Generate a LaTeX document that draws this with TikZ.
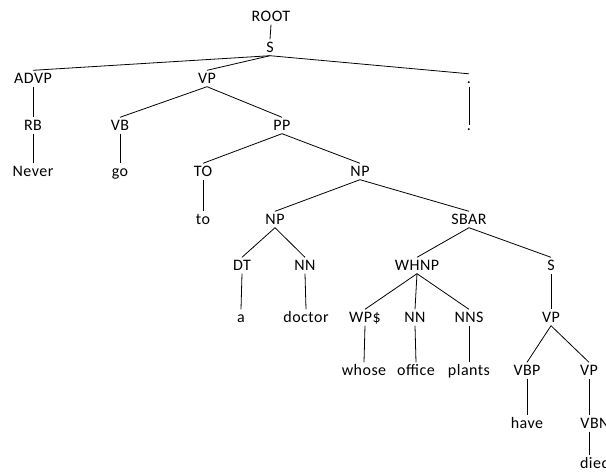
\documentclass[tikz,border=0pt]{standalone}
\usepackage{fontspec}
\setmainfont{Carlito}[LetterSpace=3]
\begin{document}
\begin{tikzpicture}[x=1pt,y=-1pt,
  lbl/.style={font=\fontsize{16}{19}\selectfont, inner sep=0pt,
              text height=12.5pt, text depth=3.5pt, anchor=base},
  branch/.style={line width=0.8pt, black}]
\path[use as bounding box] (0,0) rectangle (606,472);
\clip (0,0) rectangle (606,472);

% tree labels, one row per depth (y = baseline)
\node[lbl] (root)   at (271,21)  {ROOT};
\node[lbl] (s)      at (270,52)  {S};
\node[lbl] (advp)   at (33,83)   {ADVP};
\node[lbl] (vp)     at (207,83)  {VP};
\node[lbl, text height=9pt] (pdot) at (469,83) {.};
\node[lbl] (rb)     at (33,130)  {RB};
\node[lbl] (vb)     at (120,130) {VB};
\node[lbl] (pp)     at (282,130) {PP};
\node[lbl, text height=5pt] (pdotw) at (469,130) {.};
\node[lbl] (never)  at (33,176)  {Never};
\node[lbl] (go)     at (120,176) {go};
\node[lbl] (tot)    at (203,176) {TO};
\node[lbl] (np)     at (360,176) {NP};
\node[lbl] (tow)    at (203,224) {to};
\node[lbl] (npa)    at (275,224) {NP};
\node[lbl] (sbar)   at (469,224) {SBAR};
\node[lbl] (dt)     at (242,270) {DT};
\node[lbl] (nn)     at (305,270) {NN};
\node[lbl] (whnp)   at (417,270) {WHNP};
\node[lbl] (sb)     at (551,270) {S};
\node[lbl] (a)      at (241,322) {a};
\node[lbl] (doctor) at (306,322) {doctor};
\node[lbl] (wp)     at (365,322) {WP\$};
\node[lbl] (nno)    at (415,322) {NN};
\node[lbl] (nns)    at (469,322) {NNS};
\node[lbl] (vpb)    at (551,322) {VP};
\node[lbl] (whose)  at (364,375) {whose};
\node[lbl] (office) at (416,375) {office};
\node[lbl] (plants) at (469,375) {plants};
\node[lbl] (vbp)    at (527,375) {VBP};
\node[lbl] (vpc)    at (589,375) {VP};
\node[lbl] (have)   at (527,428) {have};
\node[lbl] (vbn)    at (595,428) {VBN};
\node[lbl] (died)   at (595,468) {died};

% branches
\foreach \p/\c in {root/s, s/advp, s/vp, s/pdot, pdot/pdotw,
                   advp/rb, rb/never, vp/vb, vp/pp, vb/go,
                   pp/tot, pp/np, tot/tow, np/npa, np/sbar,
                   npa/dt, npa/nn, dt/a, nn/doctor,
                   sbar/whnp, sbar/sb, whnp/wp, whnp/nno, whnp/nns,
                   wp/whose, nno/office, nns/plants,
                   sb/vpb, vpb/vbp, vpb/vpc, vbp/have}
  \draw[branch] (\p.south) -- (\c.north);
% the last branch runs straight down from VP
\draw[branch] (vpc.south) -- (vpc.south |- vbn.north);
\draw[branch] (vbn.south -| vpc.south) -- (vpc.south |- died.north);
\end{tikzpicture}
\end{document}
